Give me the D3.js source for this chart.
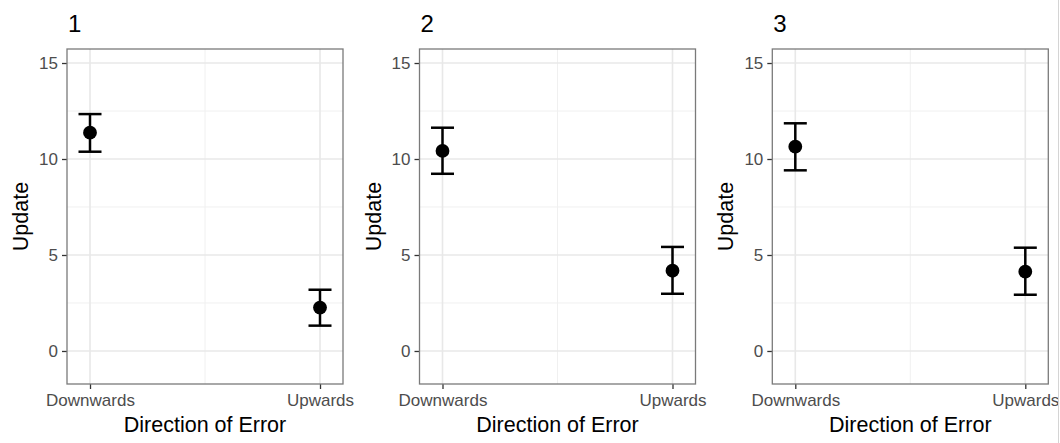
<!DOCTYPE html>
<html>
<head>
<meta charset="utf-8">
<script src="https://cdn.jsdelivr.net/npm/d3@7"></script>
<style>
  html, body { margin: 0; padding: 0; background: #fff; }
  svg { display: block; font-family: "Liberation Sans", Arial, sans-serif; }
</style>
</head>
<body>
<svg id="chart" width="1060" height="443"></svg>
<script>
// ---- data ----
const panelTitles = ["1", "2", "3"];
const categories = ["Downwards", "Upwards"];
const means  = [[11.37, 2.26], [10.42, 4.18], [10.64, 4.13]];
const lowers = [[10.38, 1.32], [9.23, 2.98], [9.41, 2.93]];
const uppers = [[12.34, 3.19], [11.63, 5.42], [11.86, 5.38]];
const yMajorTicks = [0, 5, 10, 15];
const yMinorTicks = [2.5, 7.5, 12.5];
const yDomain = [-1.72, 15.73];
const xTitle = "Direction of Error";
const yTitle = "Update";

// ---- layout ----
const svg = d3.select("#chart");
const panelLefts = [67, 419.5, 772.3];
const panelWidth = 276;
const plotTop = 49, plotBottom = 384;

const y = d3.scaleLinear().domain(yDomain).range([plotBottom, plotTop]);

panelTitles.forEach((title, i) => {
  const left = panelLefts[i], right = left + panelWidth;
  const x = d3.scalePoint().domain(categories).range([left, right]).padding(0.1);
  const g = svg.append("g");

  // minor gridlines
  g.selectAll(".yminor").data(yMinorTicks).enter().append("line")
    .attr("x1", left).attr("x2", right)
    .attr("y1", d => y(d)).attr("y2", d => y(d))
    .attr("stroke", "#f0f0f0").attr("stroke-width", 1);
  const xMinor = [(x(categories[0]) + x(categories[1])) / 2];
  g.selectAll(".xminor").data(xMinor).enter().append("line")
    .attr("x1", d => d).attr("x2", d => d)
    .attr("y1", plotTop).attr("y2", plotBottom)
    .attr("stroke", "#f0f0f0").attr("stroke-width", 1);
  // major gridlines
  g.selectAll(".ymajor").data(yMajorTicks).enter().append("line")
    .attr("x1", left).attr("x2", right)
    .attr("y1", d => y(d)).attr("y2", d => y(d))
    .attr("stroke", "#e8e8e8").attr("stroke-width", 1.6);
  g.selectAll(".xmajor").data(categories).enter().append("line")
    .attr("x1", d => x(d)).attr("x2", d => x(d))
    .attr("y1", plotTop).attr("y2", plotBottom)
    .attr("stroke", "#e8e8e8").attr("stroke-width", 1.6);

  // axes
  const yAxis = d3.axisLeft(y).tickValues(yMajorTicks).tickSize(5).tickPadding(4).tickFormat(d3.format("d"));
  const ya = g.append("g").attr("transform", `translate(${left},0)`).call(yAxis);
  ya.select(".domain").remove();
  ya.selectAll(".tick line").attr("stroke", "#333").attr("stroke-width", 1.3);
  ya.selectAll(".tick text").attr("fill", "#4d4d4d").style("font-size", "17px")
    .style("font-family", '"Liberation Sans", Arial, sans-serif');

  const xAxis = d3.axisBottom(x).tickSize(5).tickPadding(5);
  const xa = g.append("g").attr("transform", `translate(0,${plotBottom})`).call(xAxis);
  xa.select(".domain").remove();
  xa.selectAll(".tick line").attr("stroke", "#333").attr("stroke-width", 1.3);
  xa.selectAll(".tick text").attr("fill", "#4d4d4d").style("font-size", "17px")
    .style("font-family", '"Liberation Sans", Arial, sans-serif');

  // panel border
  g.append("rect").attr("x", left).attr("y", plotTop)
    .attr("width", panelWidth).attr("height", plotBottom - plotTop)
    .attr("fill", "none").attr("stroke", "#7a7a7a").attr("stroke-width", 1.3);

  // error bars
  const rows = categories.map((c, j) => ({ c, m: means[i][j], lo: lowers[i][j], hi: uppers[i][j] }));
  const capHalf = 11.5;
  const eb = g.selectAll(".eb").data(rows).enter().append("g");
  eb.append("line").attr("x1", d => x(d.c)).attr("x2", d => x(d.c))
    .attr("y1", d => y(d.lo)).attr("y2", d => y(d.hi))
    .attr("stroke", "#000").attr("stroke-width", 2.5);
  eb.append("line").attr("x1", d => x(d.c) - capHalf).attr("x2", d => x(d.c) + capHalf)
    .attr("y1", d => y(d.hi)).attr("y2", d => y(d.hi))
    .attr("stroke", "#000").attr("stroke-width", 2.5);
  eb.append("line").attr("x1", d => x(d.c) - capHalf).attr("x2", d => x(d.c) + capHalf)
    .attr("y1", d => y(d.lo)).attr("y2", d => y(d.lo))
    .attr("stroke", "#000").attr("stroke-width", 2.5);
  eb.append("circle").attr("cx", d => x(d.c)).attr("cy", d => y(d.m))
    .attr("r", 6.9).attr("fill", "#000");

  // panel title
  g.append("text").attr("x", left + 1).attr("y", 32)
    .attr("fill", "#000").style("font-size", "24px").text(title);

  // axis titles
  g.append("text").attr("x", (left + right) / 2).attr("y", 432)
    .attr("text-anchor", "middle").attr("fill", "#000")
    .style("font-size", "21.5px").text(xTitle);
  g.append("text")
    .attr("transform", `translate(${left - 39},${(plotTop + plotBottom) / 2}) rotate(-90)`)
    .attr("text-anchor", "middle").attr("fill", "#000")
    .style("font-size", "21.5px").text(yTitle);
});

// thin right-edge divider
svg.append("line").attr("x1", 1058.5).attr("x2", 1058.5).attr("y1", 0).attr("y2", 443)
  .attr("stroke", "#d4d4d4").attr("stroke-width", 1);
</script>
</body>
</html>
